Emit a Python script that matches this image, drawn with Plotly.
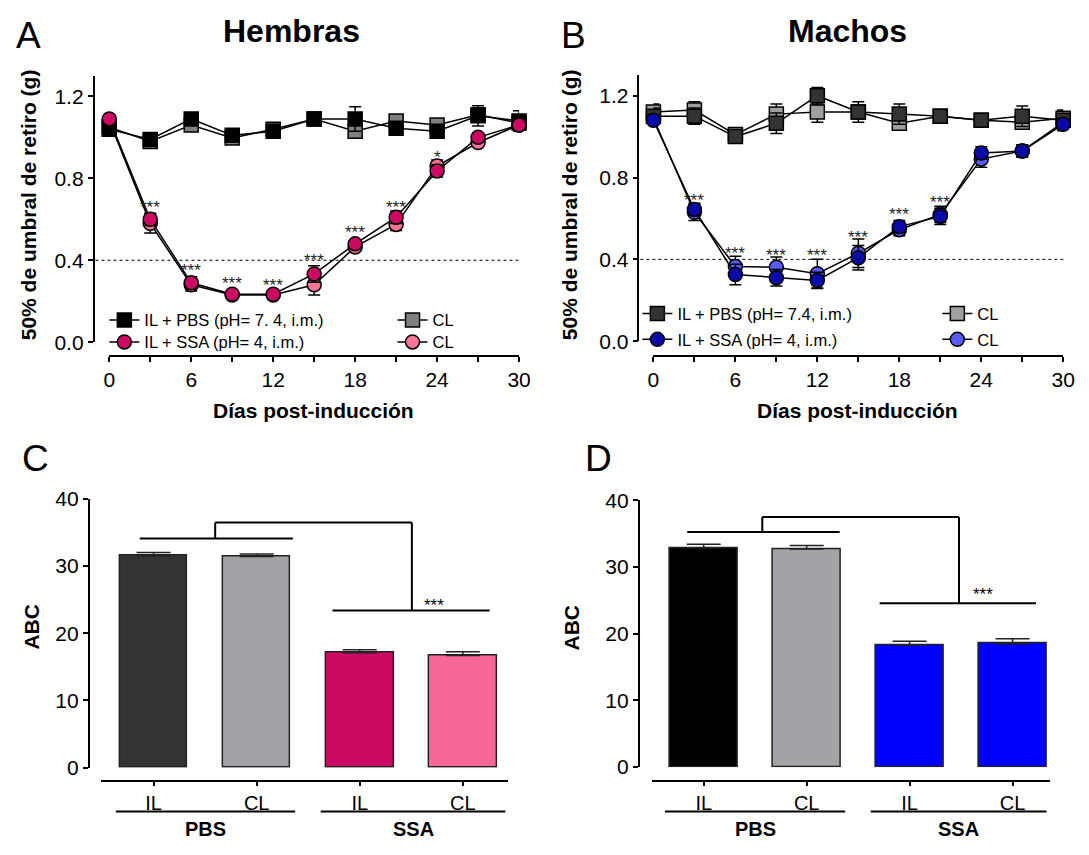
import plotly.graph_objects as go

W, H = 1089, 855
FONT = "Liberation Sans, Arial, Helvetica, sans-serif"

# ---------------- data ----------------
days = [0, 3, 6, 9, 12, 15, 18, 21, 24, 27, 30]

# Panel A - Hembras
a_il_pbs = [1.04, 0.99, 1.09, 1.01, 1.03, 1.09, 1.09, 1.045, 1.03, 1.105, 1.08]
a_il_pbs_err = [0.02, 0.02, 0.02, 0.02, 0.02, 0.03, 0.06, 0.02, 0.02, 0.05, 0.05]
a_cl_pbs = [1.05, 0.98, 1.06, 0.997, 1.04, 1.09, 1.03, 1.08, 1.06, 1.11, 1.07]
a_cl_pbs_err = [0.02, 0.02, 0.02, 0.02, 0.02, 0.03, 0.03, 0.02, 0.02, 0.03, 0.03]
a_il_ssa = [1.09, 0.60, 0.29, 0.234, 0.234, 0.333, 0.48, 0.61, 0.836, 1.00, 1.06]
a_il_ssa_err = [0.02, 0.03, 0.03, 0.01, 0.01, 0.04, 0.02, 0.03, 0.03, 0.02, 0.02]
a_cl_ssa = [1.08, 0.58, 0.28, 0.23, 0.23, 0.28, 0.465, 0.575, 0.86, 0.975, 1.06]
a_cl_ssa_err = [0.02, 0.047, 0.03, 0.01, 0.01, 0.05, 0.02, 0.03, 0.03, 0.02, 0.02]
a_star_days = [3, 6, 9, 12, 15, 18, 21, 24]
a_star_y = [0.675, 0.369, 0.305, 0.297, 0.416, 0.556, 0.675, 0.922]
a_star_txt = ["***", "***", "***", "***", "***", "***", "***", "*"]

# Panel B - Machos
b_il_pbs = [1.10, 1.10, 1.00, 1.065, 1.20, 1.12, 1.11, 1.10, 1.08, 1.10, 1.08]
b_il_pbs_err = [0.04, 0.04, 0.03, 0.05, 0.04, 0.05, 0.05, 0.02, 0.02, 0.05, 0.05]
b_cl_pbs = [1.12, 1.13, 1.01, 1.11, 1.12, 1.12, 1.065, 1.10, 1.08, 1.07, 1.09]
b_cl_pbs_err = [0.04, 0.04, 0.03, 0.05, 0.05, 0.03, 0.03, 0.02, 0.02, 0.03, 0.03]
b_il_ssa = [1.08, 0.644, 0.326, 0.31, 0.297, 0.408, 0.56, 0.61, 0.92, 0.93, 1.06]
b_il_ssa_err = [0.02, 0.03, 0.05, 0.04, 0.04, 0.06, 0.03, 0.04, 0.03, 0.03, 0.03]
b_cl_ssa = [1.09, 0.63, 0.365, 0.362, 0.33, 0.43, 0.545, 0.62, 0.89, 0.93, 1.07]
b_cl_ssa_err = [0.02, 0.04, 0.05, 0.05, 0.07, 0.07, 0.03, 0.04, 0.04, 0.03, 0.03]
b_star_days = [3, 6, 9, 12, 15, 18, 21]
b_star_y = [0.707, 0.448, 0.437, 0.437, 0.525, 0.637, 0.696]

# Panels C / D - ABC
bar_labels = ["IL", "CL", "IL", "CL"]
c_vals = [31.5, 31.4, 17.1, 16.7]
c_err = [0.5, 0.35, 0.45, 0.55]
d_vals = [32.85, 32.7, 18.3, 18.5]
d_err = [0.55, 0.5, 0.55, 0.75]


def fx(px):
    return px / W


def fy(py):
    return 1 - py / H


fig = go.Figure()


def line_trace(y, err, name, symbol, color, xa, ya, legend):
    return go.Scatter(
        x=days, y=y, mode="lines+markers", name=name,
        xaxis=xa, yaxis=ya, legend=legend, cliponaxis=False,
        line=dict(color="black", width=1.5),
        marker=dict(symbol=symbol, size=14, color=color,
                    line=dict(color="black", width=1.5)),
        error_y=dict(type="data", array=err, color="black", thickness=1.5, width=6),
    )


# Panel A traces
fig.add_trace(line_trace(a_cl_pbs, a_cl_pbs_err, "CL", "square", "#7f7f7f", "x", "y", "legend3"))
fig.add_trace(line_trace(a_cl_ssa, a_cl_ssa_err, "CL", "circle", "#f8759a", "x", "y", "legend4"))
fig.add_trace(line_trace(a_il_pbs, a_il_pbs_err, "IL + PBS (pH= 7. 4, i.m.)", "square", "#000000", "x", "y", "legend"))
fig.add_trace(line_trace(a_il_ssa, a_il_ssa_err, "IL + SSA (pH= 4, i.m.)", "circle", "#cc0a64", "x", "y", "legend2"))

# Panel B traces
fig.add_trace(line_trace(b_cl_pbs, b_cl_pbs_err, "CL", "square", "#a0a0a0", "x2", "y2", "legend7"))
fig.add_trace(line_trace(b_cl_ssa, b_cl_ssa_err, "CL", "circle", "#5a5af5", "x2", "y2", "legend8"))
fig.add_trace(line_trace(b_il_pbs, b_il_pbs_err, "IL + PBS (pH= 7.4, i.m.)", "square", "#333333", "x2", "y2", "legend5"))
fig.add_trace(line_trace(b_il_ssa, b_il_ssa_err, "IL + SSA (pH= 4, i.m.)", "circle", "#0a0aa8", "x2", "y2", "legend6"))

# Bars
def bar_trace(vals, err, colors, xa, ya):
    return go.Bar(
        x=[0, 1, 2, 3], y=vals, xaxis=xa, yaxis=ya, width=0.658, showlegend=False,
        marker=dict(color=colors, line=dict(color="#222222", width=1.5)),
        error_y=dict(type="data", symmetric=False, array=err, arrayminus=[0] * 4,
                     color="#222222", thickness=1.5, width=17),
    )


fig.add_trace(bar_trace(c_vals, c_err, ["#333333", "#a3a2a6", "#cc0a64", "#f86896"], "x3", "y3"))
fig.add_trace(bar_trace(d_vals, d_err, ["#000000", "#a3a2a6", "#0000ff", "#0000ff"], "x4", "y4"))

NUMFONT = dict(family=FONT, size=21, color="black")
CATFONT = dict(family=FONT, size=20, color="black")
common = dict(showline=True, linecolor="black", linewidth=1.5, ticks="outside",
              ticklen=5, tickwidth=1.5, tickcolor="black", showgrid=False,
              zeroline=False, anchor="free")
minor = dict(dtick=3, ticks="outside", ticklen=5, tickwidth=1.5, tickcolor="black", showgrid=False)

yt = [0, 0.4, 0.8, 1.2]
ytt = ["0.0", "0.4", "0.8", "1.2"]

fig.update_layout(
    width=W, height=H, margin=dict(l=0, r=0, t=0, b=0), autosize=False,
    paper_bgcolor="white", plot_bgcolor="white",
    font=dict(family=FONT, color="black"),
    bargap=0,
    xaxis=dict(domain=[fx(105), fx(521.7)], range=[0, 30], position=fy(354),
               tick0=0, dtick=6, minor=minor, tickfont=NUMFONT, **common),
    yaxis=dict(domain=[fy(339.3), fy(65.7)], range=[0, 1.3], position=fx(89),
               tickvals=yt, ticktext=ytt, tickfont=NUMFONT, **common),
    xaxis2=dict(domain=[fx(658.3), fx(1075)], range=[0, 30], position=fy(354),
                tick0=0, dtick=6, minor=minor, tickfont=NUMFONT, **common),
    yaxis2=dict(domain=[fy(338.3), fy(65)], range=[0, 1.3], position=fx(643),
                tickvals=yt, ticktext=ytt, tickfont=NUMFONT, **common),
    xaxis3=dict(domain=[fx(96.7), fx(510)], range=[-0.509, 3.434], position=fy(790),
                tickvals=[0, 1, 2, 3], ticktext=bar_labels, tickfont=CATFONT, **common),
    yaxis3=dict(domain=[fy(776.7), fy(500)], range=[0, 40], position=fx(84),
                tickvals=[0, 10, 20, 30, 40], tickfont=NUMFONT, **common),
    xaxis4=dict(domain=[fx(656.7), fx(1062)], range=[-0.504, 3.368], position=fy(790),
                tickvals=[0, 1, 2, 3], ticktext=bar_labels, tickfont=CATFONT, **common),
    yaxis4=dict(domain=[fy(776), fy(501.7)], range=[0, 40], position=fx(643.3),
                tickvals=[0, 10, 20, 30, 40], tickfont=NUMFONT, **common),
)

# legends: one per entry
LEGFONT = dict(family=FONT, size=16.5, color="black")
leg_pos = {
    "legend": (140, 316.7), "legend2": (140, 339.3),
    "legend3": (433, 316.7), "legend4": (433, 339.3),
    "legend5": (682, 310), "legend6": (682, 336.7),
    "legend7": (987, 310), "legend8": (987, 336.7),
}
for k, (tx, ty) in leg_pos.items():
    fig.update_layout(**{k: dict(x=fx(tx - 40), y=fy(ty), xanchor="left", yanchor="middle",
                                 font=LEGFONT, bgcolor="rgba(0,0,0,0)", borderwidth=0,
                                 itemwidth=30)})

shapes = []
# dotted reference lines
shapes.append(dict(type="line", xref="paper", yref="y", x0=fx(91), x1=fx(521.7), y0=0.4, y1=0.4,
                   line=dict(color="black", width=1, dash="dot")))
shapes.append(dict(type="line", xref="paper", yref="y2", x0=fx(645), x1=fx(1075), y0=0.4, y1=0.4,
                   line=dict(color="black", width=1, dash="dot")))


def pline(x0, y0, x1, y1, w=2):
    shapes.append(dict(type="line", xref="paper", yref="paper", x0=fx(x0), y0=fy(y0),
                       x1=fx(x1), y1=fy(y1), line=dict(color="black", width=w)))


# brackets C
pline(136, 541, 291.7, 541)
pline(212.7, 541, 212.7, 524.7)
pline(212.7, 524.7, 412.7, 524.7)
pline(412.7, 524.7, 412.7, 615)
pline(332, 615, 491.7, 615)
# brackets D
pline(692.7, 534.3, 847.7, 534.3)
pline(769, 534.3, 769, 519)
pline(769, 519, 969, 519)
pline(969, 519, 969, 607.7)
pline(888.3, 607.7, 1047.3, 607.7)
# group underlines
pline(111.7, 821.7, 294, 821.7)
pline(320, 821.7, 507.7, 821.7)
pline(670, 821.7, 853.3, 821.7)
pline(879.3, 821.7, 1058, 821.7)

ann = []


def ptext(x, y, text, size, bold=False, angle=0):
    ann.append(dict(xref="paper", yref="paper", x=fx(x), y=fy(y), text=f"<b>{text}</b>" if bold else text,
                    showarrow=False, xanchor="center", yanchor="middle", textangle=angle,
                    font=dict(family=FONT, size=size, color="black")))


ptext(23, 24, "A", 37)
ptext(577, 24, "B", 37)
ptext(30, 459, "C", 37)
ptext(602, 459, "D", 37)
ptext(290, 20, "Hembras", 32, bold=True)
ptext(856, 20, "Machos", 32, bold=True)
ptext(23, 198, "50% de umbral de retiro (g)", 21, bold=True, angle=-90)
ptext(573, 198, "50% de umbral de retiro (g)", 21, bold=True, angle=-90)
ptext(313, 410, "Días post-inducción", 21, bold=True)
ptext(866, 410, "Días post-inducción", 21, bold=True)
ptext(26, 632, "ABC", 21, bold=True, angle=-90)
ptext(576, 632, "ABC", 21, bold=True, angle=-90)
ptext(203, 840, "PBS", 20, bold=True)
ptext(414, 840, "SSA", 20, bold=True)
ptext(762, 840, "PBS", 20, bold=True)
ptext(968, 840, "SSA", 20, bold=True)
ptext(435, 610, "***", 17)
ptext(993, 599, "***", 17)

for d, yv, t in zip(a_star_days, a_star_y, a_star_txt):
    ann.append(dict(xref="x", yref="y", x=d, y=yv, text=t, showarrow=False, yshift=-4,
                    font=dict(family=FONT, size=17, color="#222222")))
for d, yv in zip(b_star_days, b_star_y):
    ann.append(dict(xref="x2", yref="y2", x=d, y=yv, text="***", showarrow=False, yshift=-4,
                    font=dict(family=FONT, size=17, color="#222222")))

fig.update_layout(shapes=shapes, annotations=ann)
fig.write_html("out.html", config={"displayModeBar": False},
               post_script="document.documentElement.style.margin='0px';document.body.style.margin='0px';document.body.style.overflow='hidden';")
